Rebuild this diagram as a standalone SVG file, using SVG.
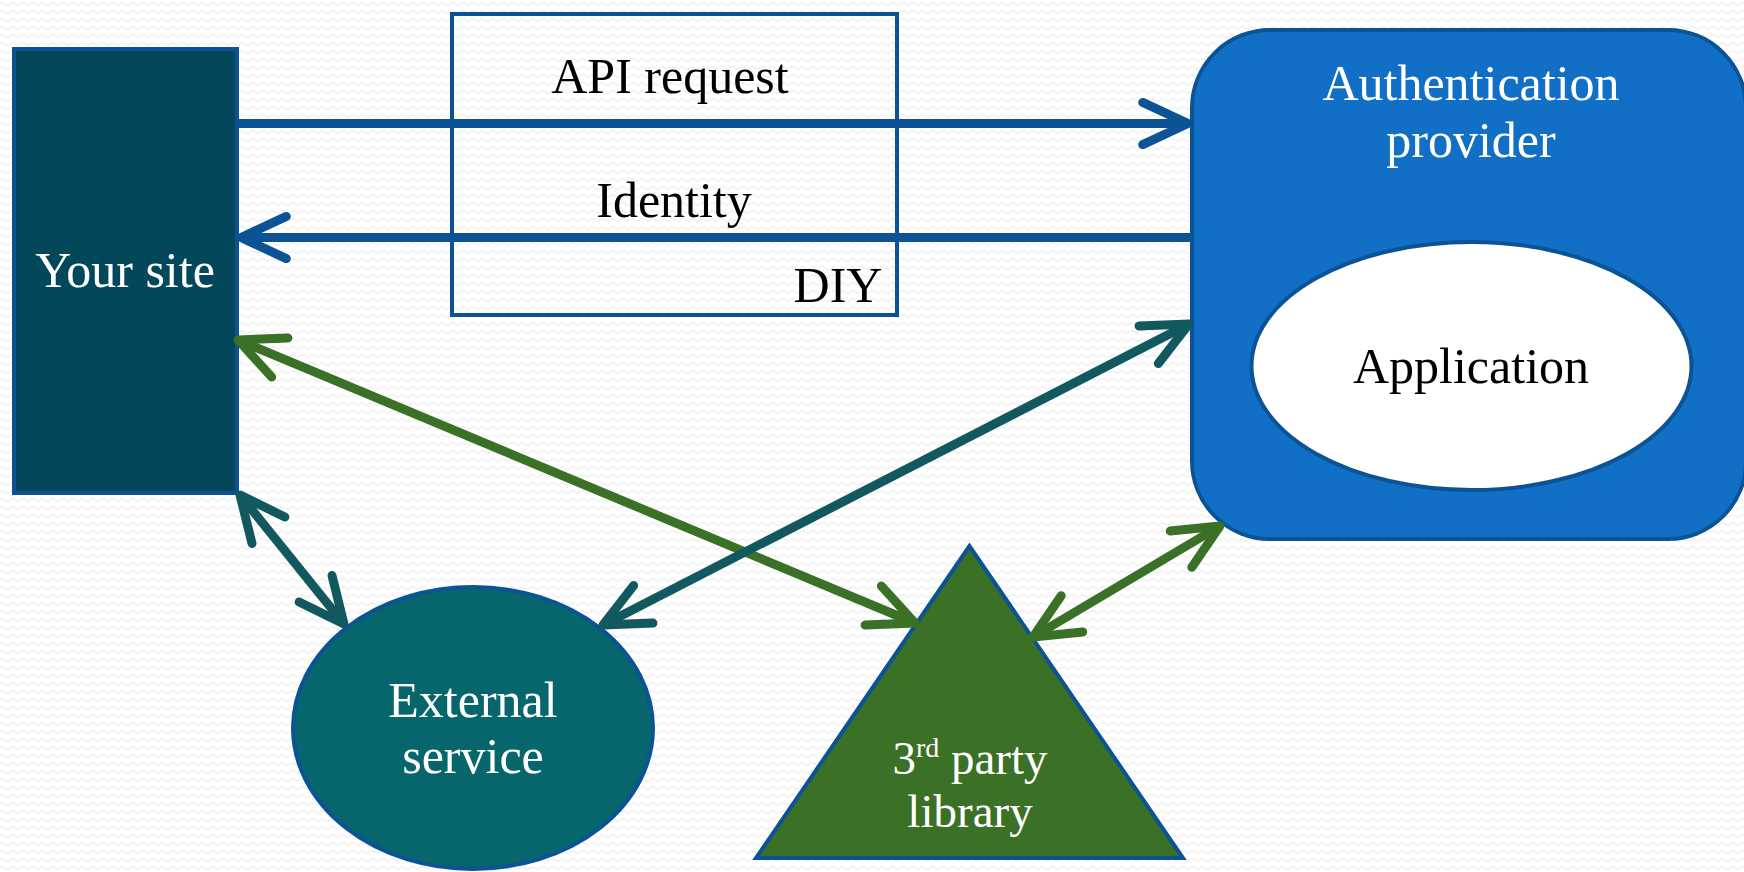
<svg xmlns="http://www.w3.org/2000/svg" width="1744" height="872" viewBox="0 0 1744 872">
<defs>
<style>
.lbl{font-family:"Liberation Serif","Times New Roman",serif;font-size:50px;text-anchor:middle}
.sm{font-size:47px}
.w{fill:#ffffff}
.k{fill:#000000}
.node{stroke:#0b5394;stroke-width:4}
.conn{fill:none;stroke-width:9}
.blue{stroke:#0b5394}
.teal{stroke:#12585f}
.green{stroke:#3b7027}
</style>
<pattern id="bg" width="10" height="8" patternUnits="userSpaceOnUse">
<path d="M0 4 Q2.5 1.5 5 4 T10 4" fill="none" stroke="#efefef" stroke-width="1.3"/>
</pattern>
<marker id="ah-blue" markerUnits="userSpaceOnUse" viewBox="-60 -30 70 60" markerWidth="70" markerHeight="60" refX="0" refY="0" orient="auto-start-reverse" overflow="visible">
<path d="M-45.3,-21.1 L0,0 L-45.3,21.1" fill="none" stroke="#0b5394" stroke-width="9" stroke-linecap="round" stroke-linejoin="round"/>
</marker>
<marker id="ah-teal" markerUnits="userSpaceOnUse" viewBox="-60 -30 70 60" markerWidth="70" markerHeight="60" refX="0" refY="0" orient="auto-start-reverse" overflow="visible">
<path d="M-45.3,-21.1 L0,0 L-45.3,21.1" fill="none" stroke="#12585f" stroke-width="9" stroke-linecap="round" stroke-linejoin="round"/>
</marker>
<marker id="ah-green" markerUnits="userSpaceOnUse" viewBox="-60 -30 70 60" markerWidth="70" markerHeight="60" refX="0" refY="0" orient="auto-start-reverse" overflow="visible">
<path d="M-45.3,-21.1 L0,0 L-45.3,21.1" fill="none" stroke="#3b7027" stroke-width="9" stroke-linecap="round" stroke-linejoin="round"/>
</marker>
</defs>
<rect x="0" y="0" width="1744" height="872" fill="#ffffff"/>
<rect x="0" y="0" width="1744" height="872" fill="url(#bg)"/>

<g id="diy">
<rect x="452" y="14" width="445" height="301" fill="none" stroke="#0b5394" stroke-width="4"/>
<text class="lbl k" x="670" y="93">API request</text>
<text class="lbl k" x="674" y="217">Identity</text>
<text class="lbl k" x="838" y="302">DIY</text>
</g>

<g id="your-site">
<rect class="node" x="14" y="49" width="223" height="444" fill="#03475a"/>
<text class="lbl w" x="125" y="287">Your site</text>
</g>

<g id="auth-provider">
<rect class="node" x="1192" y="30" width="554" height="509" rx="78" ry="78" fill="#1170c6"/>
<text class="lbl w" x="1471" y="100">Authentication</text>
<text class="lbl w" x="1471" y="157">provider</text>
</g>

<g id="application">
<ellipse class="node" cx="1471.5" cy="366" rx="220" ry="124" fill="#ffffff"/>
<text class="lbl k" x="1471" y="383">Application</text>
</g>

<g id="external-service">
<ellipse class="node" cx="473" cy="728" rx="180" ry="141" fill="#07666c"/>
<text class="lbl w" x="473" y="717">External</text>
<text class="lbl w" x="473" y="773">service</text>
</g>

<g id="third-party-library">
<polygon class="node" points="969.5,546 756,858 1183,858" fill="#3b7027"/>
<text class="lbl sm w" x="970" y="774">3<tspan dy="-17" font-size="28">rd</tspan><tspan dy="17"> party</tspan></text>
<text class="lbl sm w" x="970" y="827">library</text>
</g>

<g id="connectors">
<line class="conn blue" x1="239" y1="123.5" x2="1188" y2="123.5" marker-end="url(#ah-blue)"/>
<line class="conn blue" x1="1190" y1="237.5" x2="241" y2="237.5" marker-end="url(#ah-blue)"/>
<line class="conn green" x1="238" y1="340" x2="915" y2="623" marker-start="url(#ah-green)" marker-end="url(#ah-green)"/>
<line class="conn green" x1="1033" y1="637" x2="1220" y2="526" marker-start="url(#ah-green)" marker-end="url(#ah-green)"/>
<line class="conn teal" x1="240" y1="495" x2="344" y2="624" marker-start="url(#ah-teal)" marker-end="url(#ah-teal)"/>
<line class="conn teal" x1="603" y1="625" x2="1189" y2="324" marker-start="url(#ah-teal)" marker-end="url(#ah-teal)"/>
</g>
</svg>
